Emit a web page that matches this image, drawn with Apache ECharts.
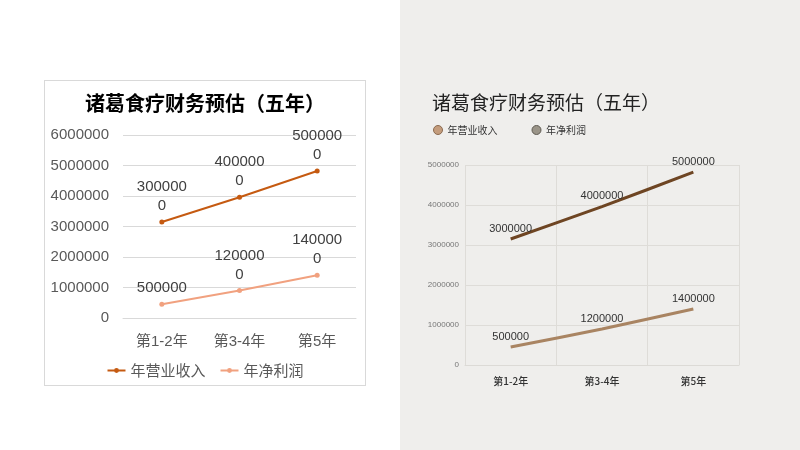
<!DOCTYPE html>
<html>
<head>
<meta charset="utf-8">
<script src="https://cdn.jsdelivr.net/npm/echarts@6/dist/echarts.min.js"></script>
<style>
  html, body { margin: 0; padding: 0; width: 800px; height: 450px; overflow: hidden; background: #fff; }
  #leftBox { position: absolute; left: 44px; top: 80px; width: 320px; height: 304px; border: 1px solid #d9d9d9; background: #fff; }
  #rightBox { position: absolute; left: 400px; top: 0; width: 400px; height: 450px; background: #efeeec; }
</style>
</head>
<body>
<div id="leftBox"></div>
<div id="rightBox"></div>
<script>
// 分类
var categories = ['第1-2年', '第3-4年', '第5年'];
// 图上点的位置
var revenue = [3150000, 3960000, 4820000];
var profit = [450000, 900000, 1400000];
// 数据标签文字
var revenueLabels = ['3000000', '4000000', '5000000'];
var profitLabels = ['500000', '1200000', '1400000'];
var titleText = '诸葛食疗财务预估（五年）';
var seriesNames = ['年营业收入', '年净利润'];

var FONT = '"Liberation Sans", "Noto Sans CJK SC", sans-serif';
var CJK = '"Noto Sans CJK SC", sans-serif';

// 左图标签换行：超过6位折行
function wrap6(s) {
    return s.length > 6 ? s.slice(0, 6) + '\n' + s.slice(6) : s;
}
// 坐标轴数字不加千分位
function plain(v) {
    return String(v);
}

/**
 * 左侧图表
 */
var leftChart = echarts.init(document.getElementById('leftBox'));
leftChart.setOption({
    animation: false,
    title: {
        text: titleText,
        left: 'center',
        top: 12,
        padding: 0,
        textStyle: { fontFamily: CJK, fontSize: 20, fontWeight: 'bold', color: '#000' }
    },
    legend: {
        bottom: 2,
        left: 'center',
        itemWidth: 18,
        itemHeight: 6,
        itemGap: 14,
        textStyle: { fontFamily: CJK, fontSize: 15, color: '#595959' },
        data: seriesNames
    },
    grid: { left: 78, right: 9, top: 54, bottom: 67 },
    xAxis: {
        type: 'category',
        data: categories,
        axisLine: { lineStyle: { color: '#d9d9d9' } },
        axisTick: { show: false },
        axisLabel: { fontFamily: FONT, fontSize: 15, color: '#595959', margin: 16 }
    },
    yAxis: {
        type: 'value',
        min: 0,
        max: 6000000,
        interval: 1000000,
        axisLine: { show: false },
        axisTick: { show: false },
        axisLabel: { fontFamily: FONT, fontSize: 15, color: '#595959', margin: 14, formatter: plain },
        splitLine: { lineStyle: { color: '#d9d9d9' } }
    },
    series: [{
        name: seriesNames[0],
        type: 'line',
        data: revenue,
        symbol: 'circle',
        symbolSize: 5,
        itemStyle: { color: '#c55a11' },
        lineStyle: { width: 2, color: '#c55a11' },
        label: {
            show: true,
            position: 'top',
            distance: 4,
            fontFamily: FONT,
            fontSize: 15,
            lineHeight: 19,
            color: '#404040',
            formatter: function(p) { return wrap6(revenueLabels[p.dataIndex]); }
        }
    }, {
        name: seriesNames[1],
        type: 'line',
        data: profit,
        symbol: 'circle',
        symbolSize: 5,
        itemStyle: { color: '#f1a17f' },
        lineStyle: { width: 2, color: '#f1a17f' },
        label: {
            show: true,
            position: 'top',
            distance: 4,
            fontFamily: FONT,
            fontSize: 15,
            lineHeight: 19,
            color: '#404040',
            formatter: function(p) { return wrap6(profitLabels[p.dataIndex]); }
        }
    }]
});

/**
 * 右侧图表
 */
var rightChart = echarts.init(document.getElementById('rightBox'));
rightChart.setOption({
    animation: false,
    title: {
        text: titleText,
        left: 32,
        top: 93,
        padding: 0,
        textStyle: { fontFamily: CJK, fontSize: 19, fontWeight: 'normal', color: '#222' }
    },
    legend: {
        left: 33,
        top: 125,
        padding: 0,
        icon: 'circle',
        itemWidth: 9,
        itemHeight: 9,
        itemGap: 34,
        textStyle: { fontFamily: CJK, fontSize: 10, color: '#333' },
        data: [
            { name: seriesNames[0], itemStyle: { color: '#c49c7c', borderColor: '#8a6a50', borderWidth: 1 } },
            { name: seriesNames[1], itemStyle: { color: '#9a9488', borderColor: '#5e5a52', borderWidth: 1 } }
        ]
    },
    grid: { left: 65, right: 61, top: 165, bottom: 85 },
    xAxis: {
        type: 'category',
        data: categories,
        axisLine: { lineStyle: { color: '#dcdad6' } },
        axisTick: { show: false },
        axisLabel: { fontFamily: CJK, fontSize: 10, fontWeight: 500, color: '#333', margin: 11 },
        splitLine: { show: true, lineStyle: { color: '#dedcd8' } }
    },
    yAxis: {
        type: 'value',
        min: 0,
        max: 5000000,
        interval: 1000000,
        axisLine: { show: false },
        axisTick: { show: false },
        axisLabel: { fontFamily: FONT, fontSize: 8, color: '#777', margin: 6, formatter: plain },
        splitLine: { lineStyle: { color: '#dedcd8' } }
    },
    series: [{
        name: seriesNames[0],
        type: 'line',
        data: revenue,
        smooth: 0.2,
        symbol: 'circle',
        symbolSize: 0,
        itemStyle: { color: '#6e4523' },
        lineStyle: { width: 3, color: '#6e4523' },
        label: {
            show: true,
            position: 'top',
            distance: 5,
            fontFamily: FONT,
            fontSize: 11,
            color: '#333',
            formatter: function(p) { return revenueLabels[p.dataIndex]; }
        }
    }, {
        name: seriesNames[1],
        type: 'line',
        data: profit,
        smooth: 0.2,
        symbol: 'circle',
        symbolSize: 0,
        itemStyle: { color: '#a98462' },
        lineStyle: { width: 3, color: '#a98462' },
        label: {
            show: true,
            position: 'top',
            distance: 5,
            fontFamily: FONT,
            fontSize: 11,
            color: '#333',
            formatter: function(p) { return profitLabels[p.dataIndex]; }
        }
    }]
});
</script>
</body>
</html>
